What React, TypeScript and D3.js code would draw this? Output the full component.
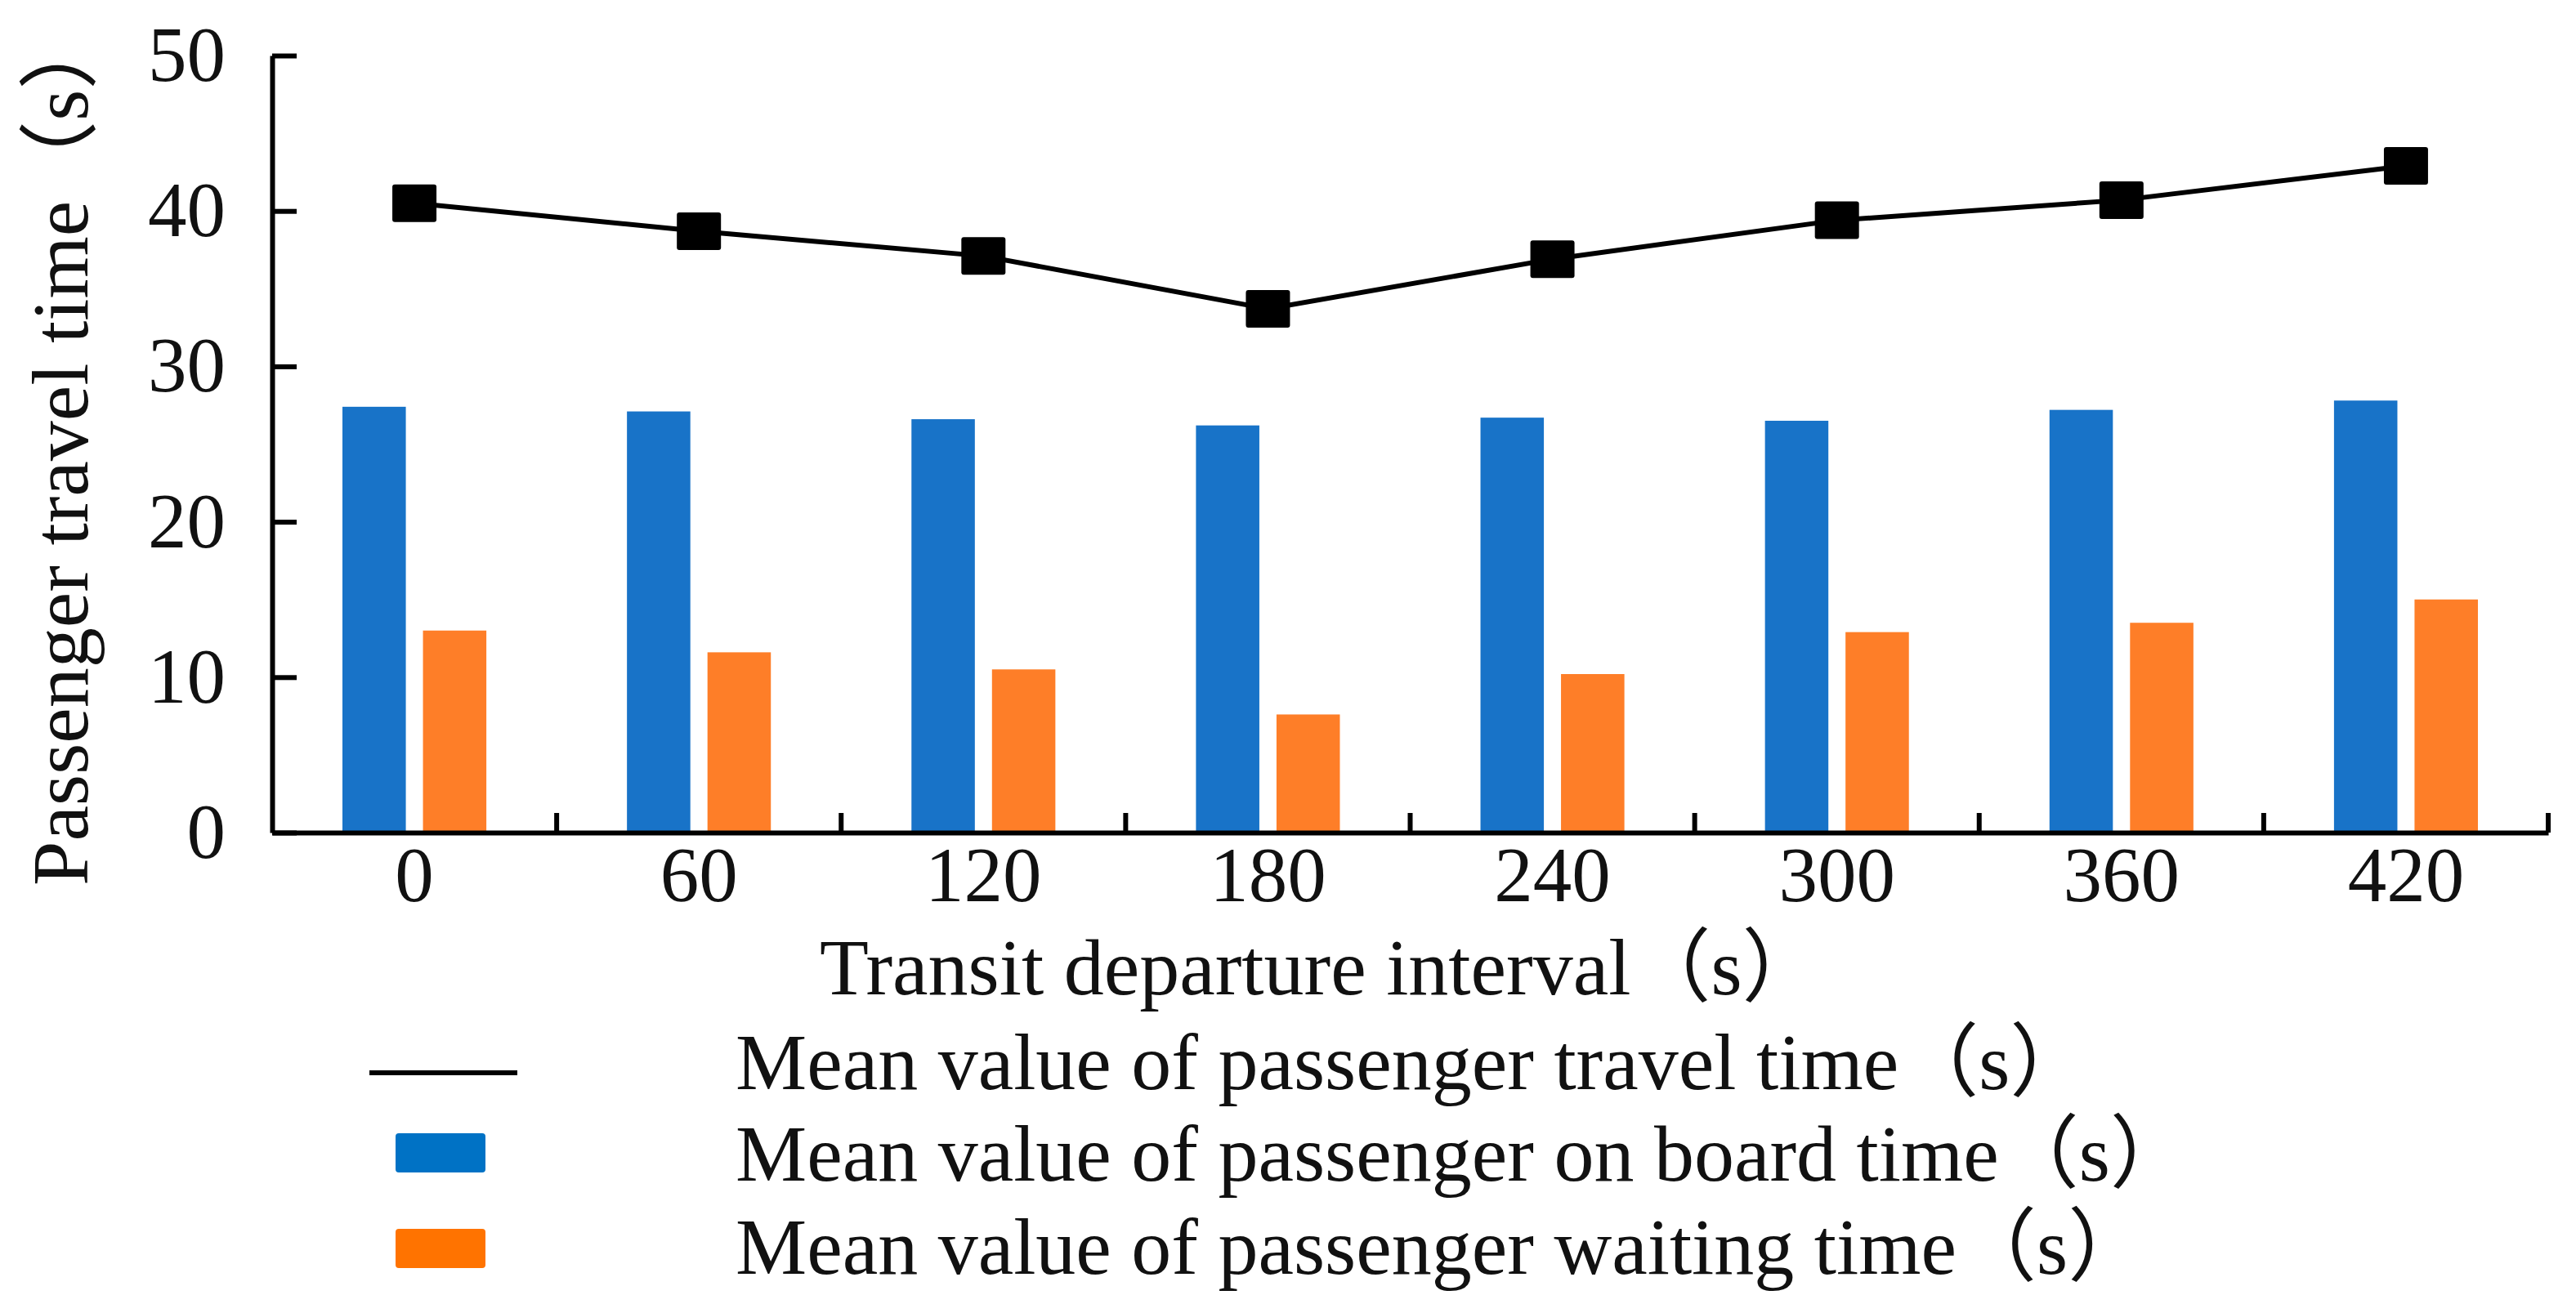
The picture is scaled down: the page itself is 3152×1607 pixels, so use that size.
import React from "react";
import * as d3 from "d3";

const categories = ["0", "60", "120", "180", "240", "300", "360", "420"];
const onBoardTime = [27.4, 27.1, 26.6, 26.2, 26.7, 26.5, 27.2, 27.8];
const waitingTime = [13.0, 11.6, 10.5, 7.6, 10.2, 12.9, 13.5, 15.0];
const travelTime = [40.5, 38.7, 37.1, 33.7, 36.9, 39.4, 40.7, 42.9];
const yTicks = [0, 10, 20, 30, 40, 50];
const seriesKeys = ["onBoard", "waiting"];

const legendLabels = [
    "Mean value of passenger travel time（s）",
    "Mean value of passenger on board time（s）",
    "Mean value of passenger waiting time（s）",
];
const xTitle = "Transit departure interval（s）";
const yTitle = "Passenger travel time（s）";

const FONT = "'Liberation Serif', 'Times New Roman', 'Noto Sans CJK SC', serif";

function App() {
    const svgRef = React.useRef(null);

    const width = 3152;
    const height = 1607;
    const margin = { top: 68, right: 34, bottom: 588, left: 333 };

    React.useEffect(() => {
        const svg = d3.select(svgRef.current);
        svg.selectAll("*").remove();

        const x = d3
            .scaleBand()
            .domain(categories)
            .range([margin.left, width - margin.right])
            .padding(0);

        const xSub = d3
            .scaleBand()
            .domain(seriesKeys)
            .range([0, x.bandwidth()])
            .paddingInner(0.213)
            .paddingOuter(0.873);

        const y = d3
            .scaleLinear()
            .domain([0, 50])
            .range([height - margin.bottom, margin.top]);

        const colors = { onBoard: "#1873C8", waiting: "#FE7E28" };
        const values = { onBoard: onBoardTime, waiting: waitingTime };

        // bars
        seriesKeys.forEach(key => {
            svg
                .append("g")
                .selectAll("rect")
                .data(values[key])
                .join("rect")
                .attr("x", (d, i) => x(categories[i]) + xSub(key))
                .attr("width", xSub.bandwidth())
                .attr("y", d => y(d))
                .attr("height", d => y(0) - y(d))
                .attr("fill", colors[key]);
        });

        // y axis
        const yAxis = svg
            .append("g")
            .attr("transform", `translate(${margin.left},0)`)
            .call(
                d3.axisLeft(y)
                    .tickValues(yTicks)
                    .tickSizeInner(-30)
                    .tickSizeOuter(0)
                    .tickPadding(57)
            );
        yAxis.select(".domain").attr("stroke-width", 6);
        yAxis.selectAll(".tick line").attr("stroke-width", 6);
        yAxis.selectAll("text")
            .attr("font-size", 95)
            .attr("font-family", FONT)
            .attr("fill", "#111");

        // x axis
        const xAxis = svg
            .append("g")
            .attr("transform", `translate(0,${y(0)})`)
            .call(
                d3.axisBottom(x)
                    .tickSize(0)
                    .tickPadding(17)
            );
        xAxis.select(".domain").attr("stroke-width", 6);
        xAxis.selectAll("text")
            .attr("font-size", 95)
            .attr("font-family", FONT)
            .attr("fill", "#111");

        // ticks between categories
        svg
            .append("g")
            .selectAll("line")
            .data(categories)
            .join("line")
            .attr("x1", d => x(d) + x.bandwidth())
            .attr("x2", d => x(d) + x.bandwidth())
            .attr("y1", y(0))
            .attr("y2", y(0) - 24)
            .attr("stroke", "#000")
            .attr("stroke-width", 6);

        // travel time line
        const line = d3
            .line()
            .x((d, i) => x(categories[i]) + x.bandwidth() / 2)
            .y(d => y(d));

        svg
            .append("path")
            .datum(travelTime)
            .attr("fill", "none")
            .attr("stroke", "#000")
            .attr("stroke-width", 6)
            .attr("d", line);

        svg
            .append("g")
            .selectAll("rect")
            .data(travelTime)
            .join("rect")
            .attr("x", (d, i) => x(categories[i]) + x.bandwidth() / 2 - 27)
            .attr("y", d => y(d) - 23)
            .attr("width", 54)
            .attr("height", 46)
            .attr("rx", 3)
            .attr("fill", "#000");

        // axis titles
        svg
            .append("text")
            .attr("x", 1003)
            .attr("y", 1217)
            .attr("font-size", 98)
            .attr("font-family", FONT)
            .attr("fill", "#111")
            .text(xTitle);

        svg
            .append("text")
            .attr("transform", "translate(107,1084) rotate(-90)")
            .attr("font-size", 98)
            .attr("font-family", FONT)
            .attr("fill", "#111")
            .text(yTitle);

        // legend
        const legend = svg.append("g");
        legend
            .append("line")
            .attr("x1", 452)
            .attr("x2", 633)
            .attr("y1", 1313)
            .attr("y2", 1313)
            .attr("stroke", "#000")
            .attr("stroke-width", 6);
        legend
            .append("rect")
            .attr("x", 484).attr("y", 1387)
            .attr("width", 110).attr("height", 48)
            .attr("rx", 4)
            .attr("fill", "#0072C5");
        legend
            .append("rect")
            .attr("x", 484).attr("y", 1504)
            .attr("width", 110).attr("height", 48)
            .attr("rx", 4)
            .attr("fill", "#FF7300");

        const baselines = [1333, 1445, 1559];
        legend
            .selectAll("text")
            .data(legendLabels)
            .join("text")
            .attr("x", 900)
            .attr("y", (d, i) => baselines[i])
            .attr("font-size", 98)
            .attr("font-family", FONT)
            .attr("fill", "#111")
            .text(d => d);
    }, []);

    return (
        <svg
            ref={svgRef}
            width={width}
            height={height}
            style={{ position: "absolute", left: 0, top: 0, background: "#fff" }}
        />
    );
}

export default App;
